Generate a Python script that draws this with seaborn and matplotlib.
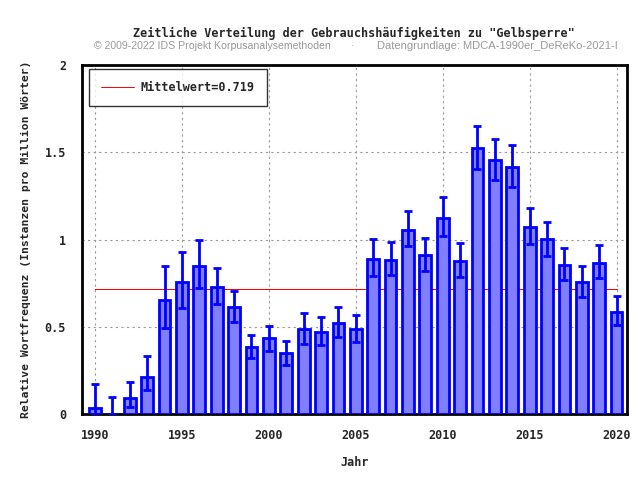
import numpy as np
import pandas as pd
import matplotlib
matplotlib.use("Agg")
import matplotlib.pyplot as plt
import seaborn as sns
from matplotlib.ticker import MultipleLocator

years = list(range(1990, 2021))
values = [0.033, 0.0, 0.09, 0.214, 0.652, 0.755, 0.85, 0.73, 0.615, 0.382, 0.434,
          0.348, 0.485, 0.472, 0.523, 0.485, 0.89, 0.884, 1.056, 0.913, 1.125,
          0.879, 1.526, 1.457, 1.417, 1.073, 1.005, 0.856, 0.758, 0.867, 0.586]
err_low = [0.0, 0.0, 0.04, 0.137, 0.495, 0.607, 0.722, 0.63, 0.527, 0.323, 0.361,
           0.283, 0.401, 0.395, 0.443, 0.414, 0.791, 0.797, 0.965, 0.821, 1.022,
           0.785, 1.406, 1.343, 1.303, 0.976, 0.907, 0.77, 0.672, 0.779, 0.512]
err_high = [0.17, 0.1, 0.185, 0.334, 0.85, 0.93, 0.997, 0.838, 0.707, 0.453, 0.506,
            0.42, 0.581, 0.558, 0.615, 0.567, 1.003, 0.986, 1.163, 1.009, 1.244,
            0.98, 1.65, 1.576, 1.542, 1.181, 1.10, 0.951, 0.848, 0.968, 0.676]
mean_value = 0.719

title = 'Zeitliche Verteilung der Gebrauchshäufigkeiten zu "Gelbsperre"'
subtitle_left = "© 2009-2022 IDS Projekt Korpusanalysemethoden"
subtitle_right = "Datengrundlage: MDCA-1990er_DeReKo-2021-I"

df = pd.DataFrame({"Jahr": years, "Wert": values})

sns.set_style("white")
mono = ["DejaVu Sans Mono"]
plt.rcParams["font.family"] = ["DejaVu Sans Mono", "DejaVu Sans"]

fig = plt.figure(figsize=(6.4, 4.8), dpi=100)
ax = fig.add_axes([82/640, 1-414/480, (627-82)/640, (414-65)/480])

sns.barplot(data=df, x="Jahr", y="Wert", native_scale=True, width=0.8,
            color="#8080ff", saturation=1, edgecolor="#0000ff", linewidth=2,
            errorbar=None, ax=ax, zorder=3)
bw = 0.68
for p in ax.patches:
    c = p.get_x() + p.get_width() / 2
    p.set_width(bw)
    p.set_x(c - bw / 2)
    p.set_facecolor("#8080ff")

yerr = [np.array(values) - np.array(err_low), np.array(err_high) - np.array(values)]
ax.errorbar(years, values, yerr=yerr, fmt="none", ecolor="#0000ff",
            elinewidth=2, capsize=3, capthick=2, zorder=4)

ax.plot([years[0], years[-1]], [mean_value, mean_value], color="#ff0000",
        linewidth=0.7, zorder=2.5, antialiased=False, label=f"Mittelwert={mean_value}")

ax.set_xlim(1989.25, 2020.6)
ax.set_ylim(0, 2)
ax.xaxis.set_minor_locator(MultipleLocator(1))
ax.yaxis.set_minor_locator(MultipleLocator(0.1))
ax.set_yticks([0, 0.5, 1, 1.5, 2])
ax.set_yticklabels(["0", "0.5", "1", "1.5", "2"])
ax.set_xticks(list(range(1990, 2021, 5)))
ax.set_xticklabels([str(y) for y in range(1990, 2021, 5)])

ax.grid(True, which="major", color="#999999", linestyle=(0, (2, 3)), linewidth=0.8, zorder=0)
ax.set_axisbelow(True)
for s in ax.spines.values():
    s.set_linewidth(2)
    s.set_color("black")
ax.tick_params(axis="both", which="both", direction="out", width=2, color="black",
               labelsize=8.5)
ax.tick_params(axis="y", which="major", length=8)
ax.tick_params(axis="y", which="minor", length=5)
ax.tick_params(axis="x", which="major", length=8, pad=3)
ax.tick_params(axis="x", which="minor", length=4)
for lab in ax.get_xticklabels() + ax.get_yticklabels():
    lab.set_fontweight("bold")

ax.set_xlabel("Jahr", fontsize=8.5, fontweight="bold", labelpad=10)
ax.set_ylabel("Relative Wortfrequenz (Instanzen pro Million Wörter)", fontsize=8.2,
              fontweight="bold", labelpad=10)

leg = ax.legend(loc="upper left", frameon=True, fancybox=False,
                prop={"family": mono, "weight": "bold", "size": 8.5},
                handlelength=2.8, handletextpad=0.6, borderpad=1.0,
                borderaxespad=0, bbox_to_anchor=(7/545, 1-4/349))
leg.get_frame().set_edgecolor("black")
leg.get_frame().set_linewidth(1)

fig.text(354/640, 1-33/480, title, ha="center", va="center", fontsize=8.5,
         fontweight="bold", family=mono)
fig.text(212/640, 1-46/480, subtitle_left, ha="center", va="center", fontsize=7.6,
         color="#999999", family=["Liberation Sans"])
fig.text(353/640, 1-46/480, "·", ha="center", va="center", fontsize=7.6,
         color="#999999", family=["Liberation Sans"])
fig.text(497/640, 1-46/480, subtitle_right, ha="center", va="center", fontsize=8.0,
         color="#999999", family=["Liberation Sans"])

fig.savefig("out.png", dpi=100, facecolor="white")
